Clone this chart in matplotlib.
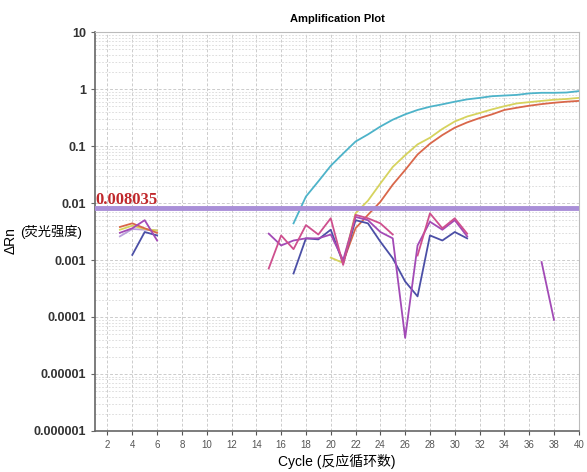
import numpy as np
import matplotlib.pyplot as plt
from matplotlib.ticker import FixedLocator, LogLocator, NullFormatter

plt.rcParams['font.family'] = ['Liberation Sans', 'Noto Sans CJK SC', 'DejaVu Sans']

nan = np.nan
cycles = np.arange(1, 41)

# delta Rn per cycle (nan = negative / not plotted)
cyan_vals = [nan] * 16 + [0.0044, 0.013, 0.024, 0.045, 0.074, 0.12, 0.16, 0.22, 0.29,
                          0.36, 0.43, 0.49, 0.54, 0.60, 0.66, 0.70, 0.75, 0.77, 0.79,
                          0.84, 0.86, 0.86, 0.87, 0.92]
yellow_vals = [nan, nan, 0.0034, 0.0040, 0.0035, 0.0033] + [nan] * 13 + \
    [0.0011, 0.00089, 0.0066, 0.011, 0.022, 0.043, 0.069, 0.107, 0.14, 0.20, 0.27,
     0.33, 0.38, 0.44, 0.50, 0.56, 0.59, 0.62, 0.65, 0.67, 0.70]
red_vals = [nan, nan, 0.0038, 0.0044, 0.0036, 0.0030] + [nan] * 14 + \
    [0.00093, 0.0036, 0.0062, 0.0105, 0.021, 0.038, 0.071, 0.11, 0.156, 0.21, 0.26,
     0.31, 0.36, 0.43, 0.47, 0.51, 0.545, 0.575, 0.60, 0.62]
blue_vals = [nan, nan, nan, 0.00123, 0.0031, 0.0027] + [nan] * 10 + \
    [0.00058, 0.0024, 0.0023, 0.0034, 0.00088, 0.0050, 0.0044, 0.0021, 0.00107,
     0.00042, 0.00023, 0.0027, 0.0022, 0.0031, 0.0024] + [nan] * 9
purple_vals = [nan, nan, 0.0030, 0.0036, 0.0050, 0.0022] + [nan] * 8 + \
    [0.0029, 0.0018, 0.0022, 0.0024, 0.0024, 0.0028, 0.0010, 0.0057, 0.0050, 0.0031,
     0.0024, 0.000043, 0.0018, 0.0047, 0.0034, 0.0050, 0.0026] + [nan] * 5 + \
    [0.00092, 0.000089, nan, nan]
pink_vals = [nan] * 14 + \
    [0.00071, 0.0027, 0.00155, 0.0041, 0.0028, 0.0054, 0.00082, 0.0062, 0.0054,
     0.0044, 0.0028, nan, 0.0012, 0.0066, 0.0036, 0.0054, 0.0029] + [nan] * 9
lilac_vals = [nan, nan, 0.0026, 0.0035, 0.0034, 0.0033] + [nan] * 34
threshold = 0.008035

series = [
    (lilac_vals, '#B9A0DA'),
    (cyan_vals, '#4DB3C9'),
    (yellow_vals, '#D6D35E'),
    (red_vals, '#D9674A'),
    (blue_vals, '#4B4FA6'),
    (purple_vals, '#A24AB6'),
    (pink_vals, '#CE4F8E'),
]

fig = plt.figure(figsize=(5.87, 4.72), dpi=100)
ax = fig.add_axes([0.162, 0.087, 0.824, 0.845])

for vals, col in series:
    ax.plot(cycles, vals, color=col, lw=1.3)

ax.axhline(threshold, color='#A98FD8', lw=3.5, zorder=5)
ax.text(1.0, threshold * 1.0, '0.008035', color='#C0282C', fontsize=12,
        fontweight='bold', family='Liberation Serif', va='bottom', ha='left', zorder=6)

ax.set_yscale('log')
ax.set_ylim(1e-6, 10)
ax.set_xlim(1, 40)
ax.xaxis.set_major_locator(FixedLocator(np.arange(2, 41, 2)))
ax.yaxis.set_minor_locator(LogLocator(base=10, subs=np.arange(2, 10), numticks=10))
ax.yaxis.set_minor_formatter(NullFormatter())
ylabels = ['0.000001', '0.00001', '0.0001', '0.001', '0.01', '0.1', '1', '10']
ax.set_yticks([1e-6, 1e-5, 1e-4, 1e-3, 1e-2, 1e-1, 1, 10])
ax.set_yticklabels(ylabels, fontsize=9, fontweight='bold', color='#333333')
ax.tick_params(axis='x', labelsize=7, colors='#555555', length=3)
ax.tick_params(axis='y', which='major', length=3, color='#666666')
ax.tick_params(axis='y', which='minor', length=0)

ax.grid(True, which='major', color='#CCCCCC', ls=(0, (3, 2)), lw=0.7)
ax.grid(True, which='minor', axis='y', color='#D8D8D8', ls=(0, (2, 2)), lw=0.6)

for side in ['top', 'right']:
    ax.spines[side].set_color('#BBBBBB')
for side in ['left', 'bottom']:
    ax.spines[side].set_color('#666666')
    ax.spines[side].set_linewidth(1.2)

ax.set_title('Amplification Plot', fontsize=8, fontweight='bold', pad=7)
ax.set_xlabel('Cycle (反应循环数)', fontsize=10, labelpad=3)
fig.text(0.018, 0.49, 'ΔRn', rotation=90, fontsize=10, va='center', ha='center')
fig.text(0.035, 0.508, '(荧光强度)', fontsize=9.5, va='center', ha='left')

fig.savefig('out.png', dpi=100)
